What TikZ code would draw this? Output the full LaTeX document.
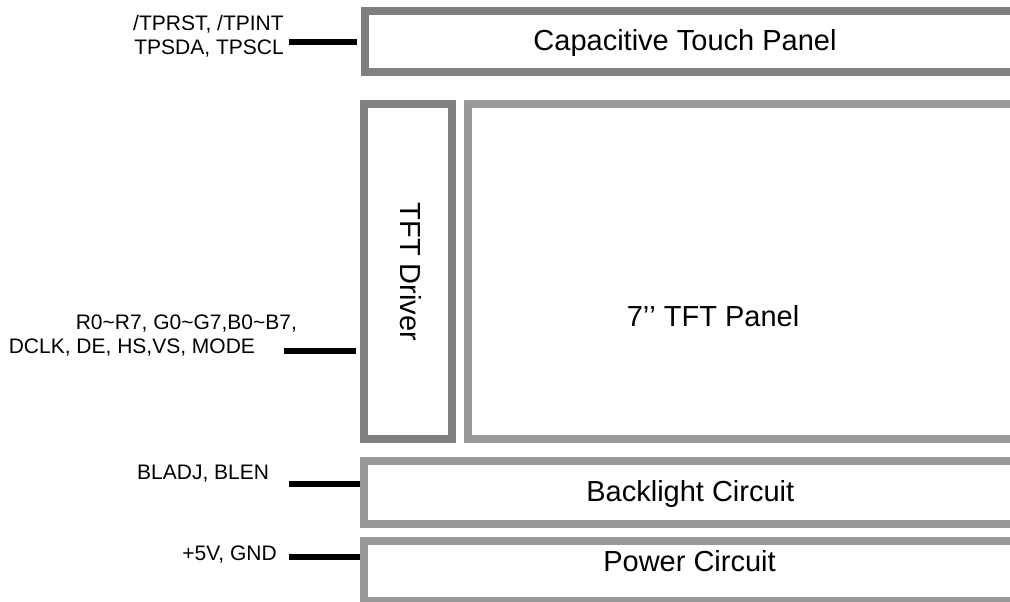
\documentclass[tikz,border=0pt]{standalone}
\usepackage{fontspec}
\setmainfont{Liberation Sans}
\usetikzlibrary{fit}
\definecolor{drvgray}{HTML}{808080}
\definecolor{pnlgray}{HTML}{999999}
\tikzset{
  darkbox/.style={draw=drvgray, line width=6pt, inner sep=0pt},
  lightbox/.style={draw=pnlgray, line width=6pt, inner sep=0pt},
  sigline/.style={line width=4.5pt},
  siglabel/.style={inner sep=0pt, font=\fontsize{15.75}{18}\selectfont},
  blocklabel/.style={inner sep=0pt, font=\fontsize{21.75}{26}\selectfont}
}

\begin{document}
\begin{tikzpicture}[x=0.75pt, y=-0.75pt]
    \useasboundingbox (0,0) rectangle (1010,601);
    \clip (0,0) rectangle (1010,601);
    \coordinate (tpA) at (364.5,11); \coordinate (tpB) at (1030,72);
    \coordinate (drA) at (364,103.5); \coordinate (drB) at (452,438.7);
    \coordinate (pnA) at (468.3,104); \coordinate (pnB) at (1030,438.8);
    \coordinate (blA) at (364,460.8); \coordinate (blB) at (1030,524);
    \coordinate (pwA) at (364,541.3); \coordinate (pwB) at (1030,601);
    % Blocks
    \node[darkbox, fit=(tpA)(tpB)] (touch) {};
    \node[darkbox, fit=(drA)(drB)] (driver) {};
    \node[lightbox, fit=(pnA)(pnB)] (panel) {};
    \node[lightbox, fit=(blA)(blB)] (backlight) {};
    \node[lightbox, fit=(pwA)(pwB)] (power) {};
    \node[blocklabel, anchor=base] (touchtxt) at (685,50) {Capacitive Touch Panel};
    \node[blocklabel, anchor=base, rotate=-90] (drivertxt) at (400,272) {TFT Driver};
    \node[blocklabel, anchor=base] (paneltxt) at (713,326) {7’\kern0pt’ TFT Panel};
    \node[blocklabel, anchor=base] (backlighttxt) at (690.3,501.7) {Backlight Circuit};
    \node[blocklabel, anchor=base] (powertxt) at (689.5,571.7) {Power Circuit};
    % Signals
    \coordinate (tpin) at (289,41.5); \coordinate (rgbin) at (284,351);
    \coordinate (blin) at (288.7,484); \coordinate (pwin) at (289,556.7);
    \draw[sigline, shorten >=3pt] (tpin) -- (tpin -| touch.west);
    \draw[sigline, shorten >=3pt] (rgbin) -- (rgbin -| driver.west);
    \draw[sigline] (blin) -- (blin -| backlight.west);
    \draw[sigline] (pwin) -- (pwin -| power.west);
    \node[siglabel, anchor=north east, align=right] (tpsig) at (284,15.5) {/TPRST, /TPINT\\TPSDA, TPSCL};
    \node[siglabel, anchor=north west, align=left] (rgbsig) at (8.5,315) {\hspace*{50.25pt}R0\textasciitilde R7, G0\textasciitilde G7,B0\textasciitilde B7,\\DCLK, DE, HS,VS, MODE};
    \node[siglabel, anchor=base east] (blsig) at (269.3,479.3) {BLADJ, BLEN};
    \node[siglabel, anchor=base east] (pwsig) at (277,560.7) {+5V, GND};
\end{tikzpicture}
\end{document}
